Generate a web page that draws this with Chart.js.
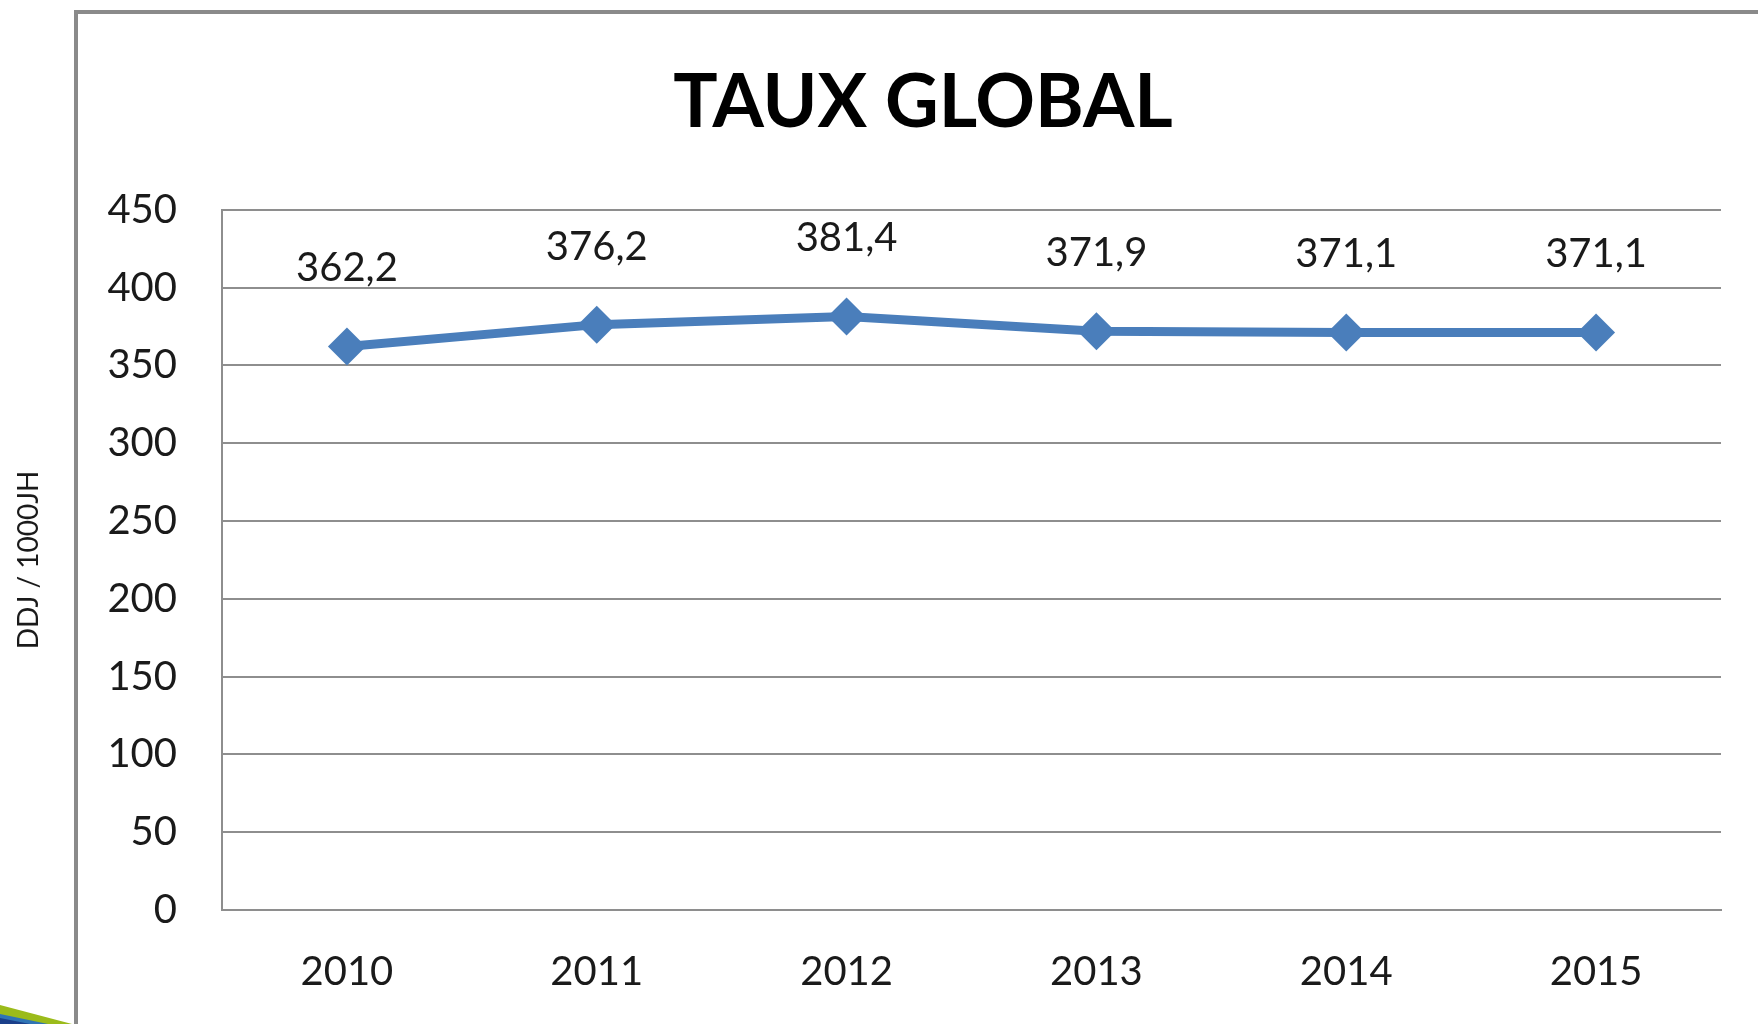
<!DOCTYPE html>
<html>
<head>
<meta charset="utf-8">
<title>Taux global</title>
<script src="https://cdn.jsdelivr.net/npm/chart.js@4/dist/chart.umd.min.js"></script>
<style>
  html, body { margin: 0; padding: 0; background: #fff; overflow: hidden; width: 1758px; height: 1024px; }
  #frame { position: absolute; left: 74px; top: 10px; width: 2000px; height: 2000px;
           border-left: 4px solid #8a8a8a; border-top: 4px solid #8a8a8a; }
  #wrap { position: absolute; left: 0; top: 0; width: 1846px; height: 1024px; }
  #swoosh { position: absolute; left: 0; top: 990px; }
</style>
</head>
<body>
<div id="frame"></div>
<svg id="swoosh" width="80" height="34">
  <polygon points="0,15 72,34 0,34" fill="#9bbb1a"/>
  <polygon points="0,24 48,34 0,34" fill="#2f74b5"/>
  <polygon points="0,28 30,34 0,34" fill="#1a3f8a"/>
</svg>
<div id="wrap"><canvas id="line-chart"></canvas></div>
<script>
var years = ["2010", "2011", "2012", "2013", "2014", "2015"];
var taux = [362.2, 376.2, 381.4, 371.9, 371.1, 371.1];
var yTicks = [0, 50, 100, 150, 200, 250, 300, 350, 400, 450];

var fontFamily = "Lato, 'Open Sans', sans-serif";

// valeurs affichées au-dessus des points, format français
var valueLabels = {
	id: 'valueLabels',
	afterDatasetsDraw: function(chart){
		var ctx = chart.ctx;
		var meta = chart.getDatasetMeta(0);
		ctx.save();
		ctx.font = "40px " + fontFamily;
		ctx.fillStyle = "#1a1a1a";
		ctx.textAlign = "center";
		ctx.textBaseline = "middle";
		meta.data.forEach(function(pt, i){
			var txt = taux[i].toFixed(1).replace('.', ',');
			ctx.fillText(txt, pt.x, pt.y - 78);
		});
		ctx.restore();
	}
};

var context = document.getElementById('line-chart').getContext('2d');
var chart = new Chart(context, {
	type: 'line',
	data: {
		labels: years,
		datasets: [{
			data: taux,
			borderColor: "#4a7ebb",
			backgroundColor: "#4a7ebb",
			borderWidth: 9,
			pointStyle: 'rectRot',
			pointRadius: 19,
			pointBorderWidth: 0,
			pointBackgroundColor: "#4a7ebb",
			fill: false,
			tension: 0
		}]
	},
	options: {
		responsive: true,
		maintainAspectRatio: false,
		animation: false,
		layout: { padding: 0 },
		plugins: {
			legend: { display: false },
			tooltip: { enabled: false },
			title: {
				display: true,
				text: 'TAUX GLOBAL',
				color: '#000',
				font: { family: fontFamily, size: 74, weight: 'bold' },
				padding: { top: 59, bottom: 62 }
			}
		},
		scales: {
			x: {
				offset: true,
				grid: { display: false, drawTicks: false },
				border: { display: true, color: '#8e8e8e', width: 2 },
				ticks: { color: '#1a1a1a', font: { family: fontFamily, size: 40 }, padding: 38 },
				afterFit: function(scale){ scale.height = 114; }
			},
			y: {
				min: 0,
				max: 450,
				afterBuildTicks: function(scale){
					scale.ticks = yTicks.map(function(v){ return { value: v }; });
				},
				grid: { color: '#8e8e8e', lineWidth: 2, drawTicks: false },
				border: { display: true, color: '#8e8e8e', width: 2 },
				ticks: { color: '#1a1a1a', font: { family: fontFamily, size: 40 }, padding: 45 },
				title: {
					display: true,
					text: 'DDJ / 1000JH',
					color: '#1a1a1a',
					font: { family: fontFamily, size: 28 },
					padding: { top: 12, bottom: 0 }
				},
				afterFit: function(scale){ scale.width = 222; }
			},
			// espace vide à droite de la zone de tracé
			droite: {
				position: 'right',
				grid: { display: false, drawTicks: false },
				border: { display: false },
				ticks: { display: false },
				afterFit: function(scale){ scale.width = 125; }
			}
		}
	},
	plugins: [valueLabels]
});
</script>
</body>
</html>
